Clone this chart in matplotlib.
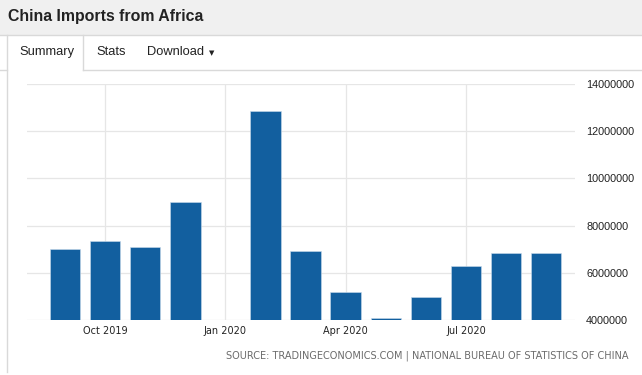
import matplotlib
matplotlib.use("Agg")
import matplotlib.pyplot as plt
from matplotlib import font_manager
from matplotlib.patches import Rectangle
from matplotlib.lines import Line2D

# ---- data ----
months = ["Sep 2019", "Oct 2019", "Nov 2019", "Dec 2019", "Jan 2020", "Feb 2020",
          "Mar 2020", "Apr 2020", "May 2020", "Jun 2020", "Jul 2020", "Aug 2020", "Sep 2020"]
values = [6990000, 7330000, 7080000, 8980000, None, 12870000,
          6910000, 5190000, 4070000, 4960000, 6300000, 6820000, 6820000]
xtick_labels = ["Oct 2019", "Jan 2020", "Apr 2020", "Jul 2020"]
ytick_values = [4000000, 6000000, 8000000, 10000000, 12000000, 14000000]

title = "China Imports from Africa"
tabs = ["Summary", "Stats", "Download"]
source = "SOURCE: TRADINGECONOMICS.COM | NATIONAL BUREAU OF STATISTICS OF CHINA"

avail = {f.name for f in font_manager.fontManager.ttflist}
sans = "Liberation Sans" if "Liberation Sans" in avail else "DejaVu Sans"
cond = "DejaVu Sans Condensed" if "DejaVu Sans Condensed" in avail else (
    "Liberation Sans Narrow" if "Liberation Sans Narrow" in avail else "DejaVu Sans")

W, H = 642, 375
fig = plt.figure(figsize=(W / 100, H / 100), dpi=100)
fig.patch.set_facecolor("white")

def fx(px):
    return px / W

def fy(py):
    return 1 - py / H

# header band
fig.patches.append(Rectangle((0, fy(35)), 1, 1 - fy(35), transform=fig.transFigure,
                             facecolor="#f0f0f0", edgecolor="none", zorder=0))
line_c = "#d9d9d9"
fig.lines.append(Line2D([0, 1], [fy(35), fy(35)], transform=fig.transFigure, color=line_c, lw=1))
fig.text(fx(8), fy(17), title, fontsize=11.4, fontweight="bold", color="#222222",
         family=sans, va="center", ha="left")

# tab bar
fig.lines.append(Line2D([fx(7), fx(7)], [fy(35), fy(372)], transform=fig.transFigure, color=line_c, lw=1))
fig.lines.append(Line2D([fx(83), fx(83)], [fy(35), fy(70)], transform=fig.transFigure, color=line_c, lw=1))
fig.lines.append(Line2D([0, fx(7)], [fy(70), fy(70)], transform=fig.transFigure, color=line_c, lw=1))
fig.lines.append(Line2D([fx(83), 1], [fy(70), fy(70)], transform=fig.transFigure, color=line_c, lw=1))
tab_x = [19, 96, 147]
for t, x in zip(tabs, tab_x):
    fig.text(fx(x), fy(52), t, fontsize=9.3, color="#222222", family=sans, va="center", ha="left")
fig.text(fx(209), fy(53), "\u25bc", fontsize=5, color="#222222", family="DejaVu Sans",
         va="center", ha="left")

# chart
ax = fig.add_axes([fx(27), fy(320), fx(575) - fx(27), fy(84) - fy(320)])
xs = [i for i, v in enumerate(values) if v is not None]
vs = [v for v in values if v is not None]
ax.bar(xs, vs, width=0.76, color="#125f9f", edgecolor="#c9dbec", linewidth=0.4, zorder=2)
ax.set_ylim(4000000, 14000000)
ax.set_xlim(-0.95, 12.72)
ax.set_xticks([months.index(m) for m in xtick_labels])
ax.set_xticklabels(xtick_labels, fontsize=7, family=cond, color="#222222")
ax.set_yticks(ytick_values)
ax.set_yticklabels([str(v) for v in ytick_values], fontsize=7.8, family=sans, color="#222222")
ax.yaxis.tick_right()
ax.tick_params(axis="y", length=0, pad=8)
ax.tick_params(axis="x", length=0, pad=4)
for lab in ax.get_yticklabels():
    lab.set_horizontalalignment("left")
ax.grid(True, color="#e6e6e6", lw=0.9, zorder=0)
ax.set_axisbelow(True)
for s in ax.spines.values():
    s.set_visible(False)
ax.set_facecolor("white")

fig.text(fx(628), fy(356), source, fontsize=7, family=cond, color="#6b6b6b", ha="right", va="center")

fig.savefig("out.png", dpi=100)
